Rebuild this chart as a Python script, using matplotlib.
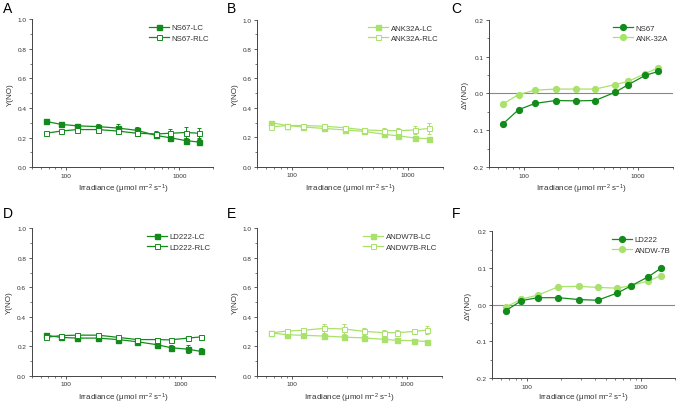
import numpy as np
import matplotlib
matplotlib.use("Agg")
import matplotlib.pyplot as plt
from matplotlib.lines import Line2D
from matplotlib.ticker import FixedLocator, LogLocator, NullFormatter, FixedFormatter, MultipleLocator

plt.rcParams['font.family'] = ['Liberation Sans', 'DejaVu Sans']
plt.rcParams['mathtext.fontset'] = 'custom'
plt.rcParams['mathtext.rm'] = 'Liberation Sans'
plt.rcParams['mathtext.it'] = 'Liberation Sans:italic'

# --- data ---
par = [66, 90, 125, 190, 285, 420, 625, 820, 1150, 1500]

ns67_lc = [0.31, 0.29, 0.28, 0.275, 0.265, 0.25, 0.215, 0.20, 0.18, 0.17]
ns67_lc_err = [0.01, 0.015, 0.015, 0.02, 0.025, 0.025, 0.02, 0.02, 0.02, 0.02]
ns67_rlc = [0.23, 0.245, 0.255, 0.255, 0.245, 0.23, 0.225, 0.23, 0.235, 0.23]
ns67_rlc_err = [0.01, 0.01, 0.01, 0.015, 0.02, 0.02, 0.02, 0.03, 0.035, 0.035]

ank_lc = [0.30, 0.28, 0.27, 0.26, 0.25, 0.24, 0.22, 0.21, 0.195, 0.19]
ank_lc_err = [0.01, 0.01, 0.01, 0.01, 0.01, 0.01, 0.01, 0.01, 0.01, 0.01]
ank_rlc = [0.27, 0.28, 0.28, 0.275, 0.265, 0.25, 0.245, 0.245, 0.25, 0.26]
ank_rlc_err = [0.01, 0.01, 0.01, 0.01, 0.01, 0.015, 0.02, 0.02, 0.03, 0.04]

ld_lc = [0.275, 0.26, 0.255, 0.255, 0.245, 0.23, 0.21, 0.19, 0.18, 0.165]
ld_lc_err = [0.01, 0.01, 0.01, 0.01, 0.01, 0.015, 0.02, 0.02, 0.025, 0.02]
ld_rlc = [0.26, 0.272, 0.275, 0.275, 0.26, 0.245, 0.245, 0.243, 0.255, 0.263]
ld_rlc_err = [0.01, 0.01, 0.01, 0.01, 0.01, 0.01, 0.01, 0.01, 0.01, 0.01]

andw_lc = [0.29, 0.278, 0.274, 0.269, 0.262, 0.256, 0.247, 0.24, 0.238, 0.231]
andw_lc_err = [0.01, 0.01, 0.01, 0.01, 0.01, 0.01, 0.01, 0.01, 0.01, 0.01]
andw_rlc = [0.29, 0.303, 0.308, 0.321, 0.317, 0.301, 0.292, 0.292, 0.30, 0.31]
andw_rlc_err = [0.015, 0.015, 0.015, 0.03, 0.035, 0.025, 0.02, 0.02, 0.02, 0.025]

d_ns67 = [-0.082, -0.044, -0.027, -0.019, -0.02, -0.019, 0.003, 0.024, 0.049, 0.06]
d_ank = [-0.028, -0.003, 0.009, 0.012, 0.012, 0.012, 0.024, 0.033, 0.054, 0.07]
d_ld = [-0.016, 0.011, 0.019, 0.019, 0.014, 0.012, 0.032, 0.051, 0.075, 0.099]
d_andw = [-0.006, 0.015, 0.026, 0.049, 0.05, 0.047, 0.045, 0.052, 0.064, 0.079]

dark = '#138b1b'
light = '#a9e26a'
txt = '#333333'

fig = plt.figure(figsize=(6.76, 4.06), dpi=100)


def style_axes(ax, delta=False, xpad=3):
    ax.set_xscale('log')
    ax.set_xlim(50, 2000)
    ax.xaxis.set_major_locator(FixedLocator([100, 1000]))
    ax.xaxis.set_major_formatter(FixedFormatter(['100', '1000']))
    ax.xaxis.set_minor_locator(LogLocator(base=10, subs=np.arange(2, 10)))
    ax.xaxis.set_minor_formatter(NullFormatter())
    if delta:
        ax.set_ylim(-0.2, 0.2)
        ax.yaxis.set_minor_locator(MultipleLocator(0.05))
        ax.set_yticks([-0.2, -0.1, 0.0, 0.1, 0.2])
        ax.set_yticklabels(['-0.2', '-0.1', '0.0', '0.1', '0.2'])
        ax.set_ylabel('ΔY(NO)', fontsize=5.8, color=txt, labelpad=3)
    else:
        ax.set_ylim(0, 1.0)
        ax.yaxis.set_minor_locator(MultipleLocator(0.1))
        ax.set_yticks([0, 0.2, 0.4, 0.6, 0.8, 1.0])
        ax.set_yticklabels(['0.0', '0.2', '0.4', '0.6', '0.8', '1.0'])
        ax.set_ylabel('Y(NO)', fontsize=5.8, color=txt, labelpad=3)
    for s in ['top', 'right']:
        ax.spines[s].set_visible(False)
    for s in ['left', 'bottom']:
        ax.spines[s].set_color('#444444')
        ax.spines[s].set_linewidth(0.7)
    ax.tick_params(which='major', direction='out', length=2.5, width=0.6,
                   labelsize=4.6, colors='#444444', labelcolor=txt, pad=1.5)
    ax.tick_params(which='minor', direction='out', length=1.4, width=0.5,
                   colors='#444444')
    ax.set_xlabel('Irradiance (μmol m$^{-2}$ s$^{-1}$)', fontsize=5.8, color=txt,
                  labelpad=xpad)


def add_legend(ax, handles):
    leg = ax.legend(handles=handles, loc='upper right', fontsize=5.6, frameon=False,
                    handlelength=2.6, handletextpad=0.3, labelspacing=0.35,
                    borderaxespad=0.2)
    for t in leg.get_texts():
        t.set_color(txt)


def yield_panel(rect, lc, lc_err, rlc, rlc_err, color, names):
    ax = fig.add_axes(rect)
    style_axes(ax)
    ax.errorbar(par, lc, yerr=lc_err, color=color, marker='s', markersize=3.6,
                linewidth=0.9, elinewidth=0.7, capsize=1.5, capthick=0.7, zorder=3)
    ax.errorbar(par, rlc, yerr=rlc_err, color=color, marker='s', markersize=3.6,
                markerfacecolor='white', markeredgewidth=0.7,
                linewidth=0.9, elinewidth=0.7, capsize=1.5, capthick=0.7, zorder=3)
    handles = [
        Line2D([], [], color=color, marker='s', markersize=3.6, linewidth=0.9,
               label=names[0]),
        Line2D([], [], color=color, marker='s', markersize=3.6, linewidth=0.9,
               markerfacecolor='white', markeredgewidth=0.7, label=names[1]),
    ]
    add_legend(ax, handles)
    return ax


def delta_panel(rect, d1, d2, names, xpad=3):
    ax = fig.add_axes(rect)
    style_axes(ax, delta=True, xpad=xpad)
    ax.axhline(0, color='#888888', linewidth=0.8, zorder=1)
    l1, = ax.plot(par, d1, color=dark, marker='o', markersize=4.2, linewidth=0.9,
                  label=names[0], zorder=3)
    l2, = ax.plot(par, d2, color=light, marker='o', markersize=4.2, linewidth=0.9,
                  label=names[1], zorder=2)
    add_legend(ax, [l1, l2])
    return ax


yield_panel([0.0478, 0.5855, 0.2678, 0.3645], ns67_lc, ns67_lc_err, ns67_rlc, ns67_rlc_err,
            dark, ['NS67-LC', 'NS67-RLC'])
yield_panel([0.3806, 0.587, 0.2747, 0.362], ank_lc, ank_lc_err, ank_rlc, ank_rlc_err,
            light, ['ANK32A-LC', 'ANK32A-RLC'])
delta_panel([0.7238, 0.5855, 0.2713, 0.3635], d_ns67, d_ank, ['NS67', 'ANK-32A'])

yield_panel([0.0469, 0.0722, 0.2712, 0.363], ld_lc, ld_lc_err, ld_rlc, ld_rlc_err,
            dark, ['LD222-LC', 'LD222-RLC'])
yield_panel([0.3806, 0.0722, 0.2727, 0.363], andw_lc, andw_lc_err, andw_rlc, andw_rlc_err,
            light, ['ANDW7B-LC', 'ANDW7B-RLC'])
delta_panel([0.7283, 0.0665, 0.2703, 0.3613], d_ld, d_andw, ['LD222', 'ANDW-7B'], xpad=1.5)

# panel letters
for lab, x, y in [('A', 0.004, 0.995), ('B', 0.336, 0.995), ('C', 0.668, 0.995),
                  ('D', 0.004, 0.49), ('E', 0.336, 0.49), ('F', 0.668, 0.49)]:
    fig.text(x, y, lab, fontsize=10, va='top', ha='left', color='black')

fig.savefig('out.png', dpi=100)
